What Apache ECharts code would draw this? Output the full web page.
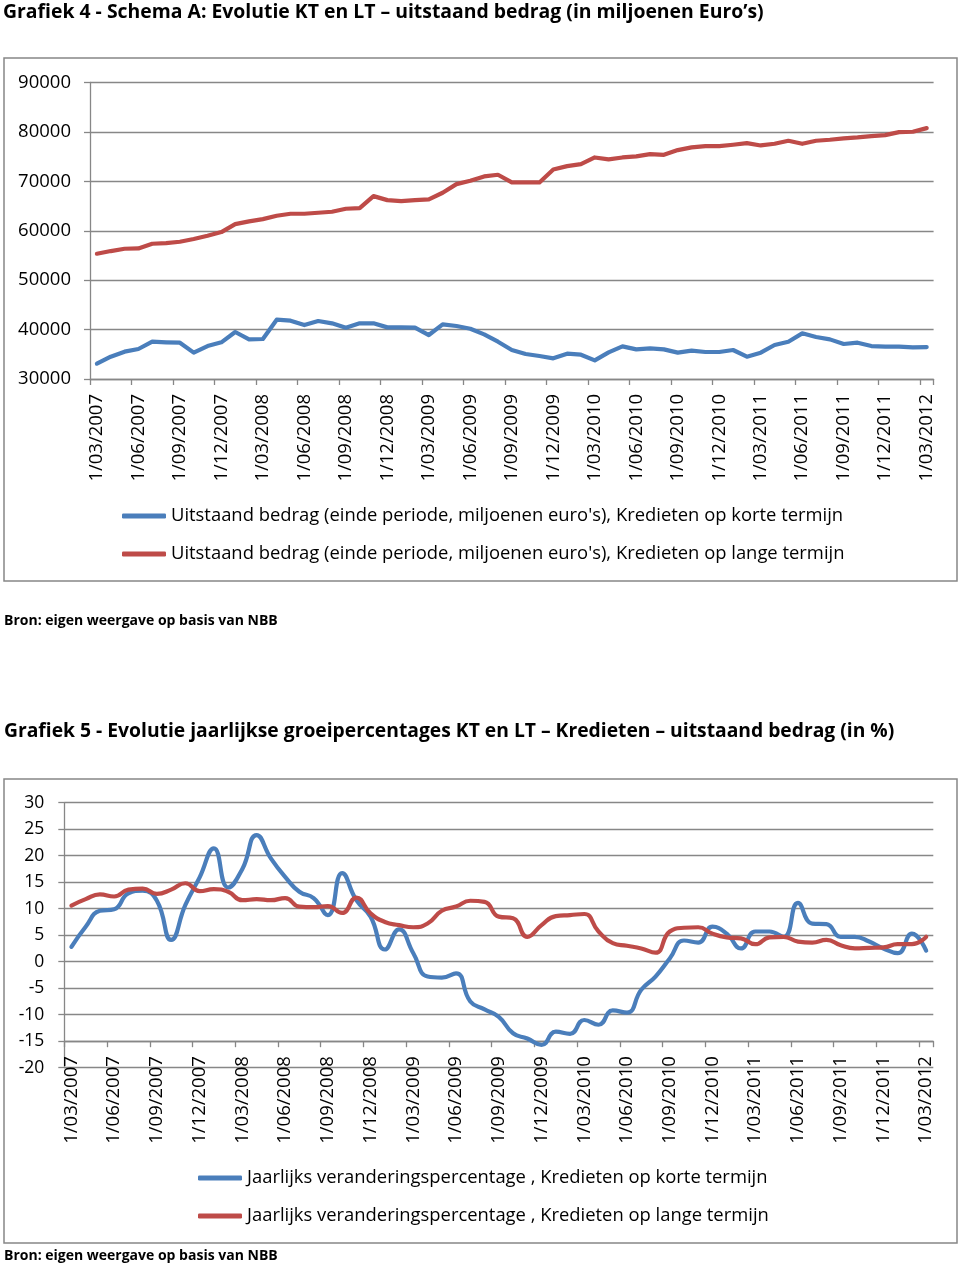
<!DOCTYPE html>
<html>
<head>
<meta charset="utf-8">
<script src="https://cdn.jsdelivr.net/npm/echarts@6/dist/echarts.min.js"></script>
<style>
html,body{margin:0;padding:0;background:#fff;}
#chart{width:960px;height:1267px;}
</style>
</head>
<body>
<div id="chart"></div>
<script>
const categories = [
"1/03/2007","1/04/2007","1/05/2007","1/06/2007","1/07/2007","1/08/2007","1/09/2007","1/10/2007","1/11/2007","1/12/2007",
"1/01/2008","1/02/2008","1/03/2008","1/04/2008","1/05/2008","1/06/2008","1/07/2008","1/08/2008","1/09/2008","1/10/2008","1/11/2008","1/12/2008",
"1/01/2009","1/02/2009","1/03/2009","1/04/2009","1/05/2009","1/06/2009","1/07/2009","1/08/2009","1/09/2009","1/10/2009","1/11/2009","1/12/2009",
"1/01/2010","1/02/2010","1/03/2010","1/04/2010","1/05/2010","1/06/2010","1/07/2010","1/08/2010","1/09/2010","1/10/2010","1/11/2010","1/12/2010",
"1/01/2011","1/02/2011","1/03/2011","1/04/2011","1/05/2011","1/06/2011","1/07/2011","1/08/2011","1/09/2011","1/10/2011","1/11/2011","1/12/2011",
"1/01/2012","1/02/2012","1/03/2012"
];

const yTicks1 = [30000, 90000, 10000];   // min, max, step (chart 1)
const yTicks2 = [-20, 30, 5];            // min, max, step (chart 2)

const nameKT1 = "Uitstaand bedrag (einde periode, miljoenen euro's), Kredieten op korte termijn";
const nameLT1 = "Uitstaand bedrag (einde periode, miljoenen euro's), Kredieten op lange termijn";
const nameKT2 = "Jaarlijks veranderingspercentage , Kredieten op korte termijn";
const nameLT2 = "Jaarlijks veranderingspercentage , Kredieten op lange termijn";

const ktBedrag = [
33100,34520,35530,36070,37550,37420,37350,35330,36670,37420,
39510,38020,38090,42000,41800,40920,41730,41260,40380,41260,
41260,40450,40450,40380,38900,41060,40720,40180,39030,37550,
35870,35060,34650,34180,35120,34920,33780,35390,36610,36000,
36200,36000,35330,35730,35460,35460,35870,34520,35330,36880,
37550,39240,38500,38020,37080,37350,36670,36540,36540,36400,36470
];
const ltBedrag = [
55350,55890,56360,56430,57370,57510,57780,58320,58990,59730,
61350,61890,62360,63040,63440,63440,63640,63840,64450,64590,
67010,66200,66000,66200,66340,67690,69440,70110,70990,71330,
69780,69780,69780,72410,73080,73490,74830,74430,74830,75040,
75510,75370,76320,76860,77130,77130,77400,77730,77260,77600,
78210,77600,78210,78410,78680,78880,79150,79350,79960,80030,80770
];
const ktGroei = [
2.8,6.6,9.6,9.9,12.9,13.4,11.5,4.1,10.7,15.9,
21.4,14.0,17.5,23.9,19.5,16.0,13.2,12.0,8.8,16.7,
11.6,8.5,2.3,6.1,1.6,-2.8,-3.0,-2.2,-7.5,-9.0,
-10.4,-13.5,-14.5,-15.7,-13.2,-13.6,-11.0,-11.9,-9.2,-9.6,
-5.3,-2.8,0.6,4.0,3.6,6.6,5.3,2.5,5.7,5.7,
4.7,11.1,7.2,7.1,4.7,4.7,3.8,2.5,1.6,5.3,2.1
];
const ltGroei = [
10.6,11.8,12.7,12.3,13.6,13.8,12.8,13.6,14.8,13.3,
13.7,13.2,11.6,11.8,11.6,12.0,10.4,10.3,10.5,9.2,
12.1,9.1,7.5,6.9,6.5,7.2,9.6,10.4,11.5,11.3,
8.5,8.2,4.7,6.9,8.6,8.8,9.0,5.7,3.5,3.0,
2.5,1.7,5.7,6.4,6.5,5.3,4.6,4.4,3.3,4.6,
4.7,3.8,3.6,4.1,3.1,2.5,2.6,2.7,3.3,3.3,4.7
];

const FONT = "'Open Sans', 'Noto Sans', sans-serif";
const GRAY = '#878787';
const BLUE = '#4a7ebb';
const RED = '#be4b48';

function xAxisCfg(gridIndex, offset) {
  return {
    type: 'category', gridIndex: gridIndex, data: categories, boundaryGap: true,
    offset: offset,
    axisLine: {show: true, onZero: false, lineStyle: {color: GRAY, width: 1.3}},
    axisTick: {show: true, interval: 2, length: 6, lineStyle: {color: GRAY, width: 1.3}},
    axisLabel: {interval: 2, rotate: 90, margin: 15, color: '#000', fontFamily: FONT, fontSize: 18.5},
    splitLine: {show: false}
  };
}
function yAxisCfg(gridIndex, t, fs, margin) {
  return {
    type: 'value', gridIndex: gridIndex, min: t[0], max: t[1], interval: t[2],
    axisLine: {show: true, lineStyle: {color: GRAY, width: 1.3}},
    axisTick: {show: true, length: 6, lineStyle: {color: GRAY, width: 1.3}},
    axisLabel: {color: '#000', fontFamily: FONT, fontSize: fs, margin: margin, formatter: v => String(v)},
    splitLine: {show: true, lineStyle: {color: GRAY, width: 1.3}}
  };
}
function lineSeries(name, data, color, xi, smooth) {
  return {
    type: 'line', name: name, data: data, xAxisIndex: xi, yAxisIndex: xi,
    showSymbol: false, symbol: 'none', smooth: smooth,
    lineStyle: {color: color, width: 4.2, cap: 'round', join: 'round'},
    itemStyle: {color: color}
  };
}
function legendCfg(name, left, top) {
  return {
    data: [name], left: left, top: top, padding: 0, icon: 'roundRect',
    itemWidth: 44, itemHeight: 5, selectedMode: false,
    textStyle: {color: '#000', fontFamily: FONT, fontSize: 18.4}
  };
}
function textTitle(text, left, top, fs) {
  return {text: text, left: left, top: top, padding: 0,
    textStyle: {color: '#000', fontFamily: FONT, fontSize: fs, fontWeight: 'bold'}};
}

const chart = echarts.init(document.getElementById('chart'), null, {renderer: 'canvas'});
chart.setOption({
  animation: false,
  backgroundColor: '#fff',
  title: [
    textTitle("Grafiek 4 - Schema A: Evolutie KT en LT \u2013 uitstaand bedrag (in miljoenen Euro\u2019s)", 3, 3, 19.4),
    textTitle("Bron: eigen weergave op basis van NBB", 4, 614, 14),
    textTitle("Grafiek 5 - Evolutie jaarlijkse groeipercentages KT en LT \u2013 Kredieten \u2013 uitstaand bedrag (in %)", 4, 722, 19.3),
    textTitle("Bron: eigen weergave op basis van NBB", 4, 1249, 14)
  ],
  graphic: [
    {type: 'rect', shape: {x: 4, y: 58, width: 953, height: 523}, style: {fill: 'none', stroke: GRAY, lineWidth: 1.5}, silent: true},
    {type: 'rect', shape: {x: 4, y: 779, width: 953, height: 464}, style: {fill: 'none', stroke: GRAY, lineWidth: 1.5}, silent: true}
  ],
  legend: [
    legendCfg(nameKT1, 122, 507),
    legendCfg(nameLT1, 122, 545),
    legendCfg(nameKT2, 198, 1169),
    legendCfg(nameLT2, 198, 1207)
  ],
  grid: [
    {left: 90, top: 82.5, width: 843.6, height: 296.5},
    {left: 64.3, top: 802.7, width: 869, height: 265}
  ],
  xAxis: [xAxisCfg(0, 0), xAxisCfg(1, -26.5)],
  yAxis: [yAxisCfg(0, yTicks1, 18.5, 19), yAxisCfg(1, yTicks2, 17.5, 20)],
  series: [
    lineSeries(nameKT1, ktBedrag, BLUE, 0, false),
    lineSeries(nameLT1, ltBedrag, RED, 0, false),
    lineSeries(nameKT2, ktGroei, BLUE, 1, 0.5),
    lineSeries(nameLT2, ltGroei, RED, 1, 0.5)
  ]
});
</script>
</body>
</html>
